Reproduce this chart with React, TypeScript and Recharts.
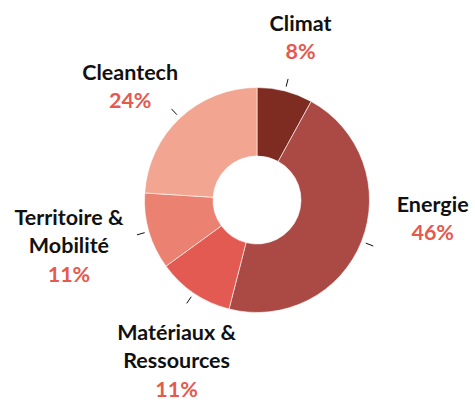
import { PieChart, Pie, Cell } from "recharts"

const categories = ["Climat", "Energie", "Matériaux & Ressources", "Territoire & Mobilité", "Cleantech"]
const shares = [8, 46, 11, 11, 24]
const labelLines = [["Climat"], ["Energie"], ["Matériaux &", "Ressources"], ["Territoire &", "Mobilité"], ["Cleantech"]]

const COLORS = ["#7e2b21", "#ab4a45", "#e25a51", "#eb8170", "#f2a591"]
const PCT_COLOR = "#e5594f"
const FONT = "Lato, 'Open Sans', sans-serif"

// hand placement of labels, offsets from the default radial spot
const LABEL_NUDGE = [
  [0, 7],
  [13, -46],
  [18, 16],
  [-20, -3],
  [-7, 14],
]

const data = categories.map((name, i) => ({ name, value: shares[i] }))

const RAD = Math.PI / 180
const LINE_H = 28.5

function renderLabel(props: any) {
  const { cx, cy, midAngle, index, value } = props
  const cos = Math.cos(-midAngle * RAD)
  const sin = Math.sin(-midAngle * RAD)
  const t1x = cx + 117 * cos
  const t1y = cy + 117 * sin
  const t2x = cx + 125 * cos
  const t2y = cy + 125 * sin
  const lx = cx + 175 * cos + LABEL_NUDGE[index][0]
  const ly = cy + 175 * sin + LABEL_NUDGE[index][1]
  const lines = labelLines[index]
  const n = lines.length + 1
  const base0 = ly - ((n - 1) * LINE_H - 15) / 2
  return (
    <g>
      <line x1={t1x} y1={t1y} x2={t2x} y2={t2y} stroke="#111" strokeWidth={1} />
      <text x={lx} textAnchor="middle" fontFamily={FONT} fontSize={21.5} fontWeight={700}>
        {lines.map((l, i) => (
          <tspan key={i} x={lx} y={base0 + i * LINE_H} fill="#111">
            {l}
          </tspan>
        ))}
        <tspan x={lx} y={base0 + lines.length * LINE_H} fill={PCT_COLOR}>
          {value}%
        </tspan>
      </text>
    </g>
  )
}

export default function App() {
  return (
    <div style={{ position: "absolute", left: 0, top: 0, width: 475, height: 403, background: "#fff" }}>
      <PieChart width={475} height={403} margin={{ top: 0, right: 0, bottom: 0, left: 0 }}>
        <Pie
          data={data}
          dataKey="value"
          nameKey="name"
          cx={257}
          cy={200}
          innerRadius={44}
          outerRadius={112.5}
          startAngle={90}
          endAngle={-270}
          stroke="#fff"
          strokeWidth={0.6}
          label={renderLabel}
          labelLine={false}
          isAnimationActive={false}
        >
          {data.map((d, i) => (
            <Cell key={d.name} fill={COLORS[i]} />
          ))}
        </Pie>
      </PieChart>
    </div>
  )
}
